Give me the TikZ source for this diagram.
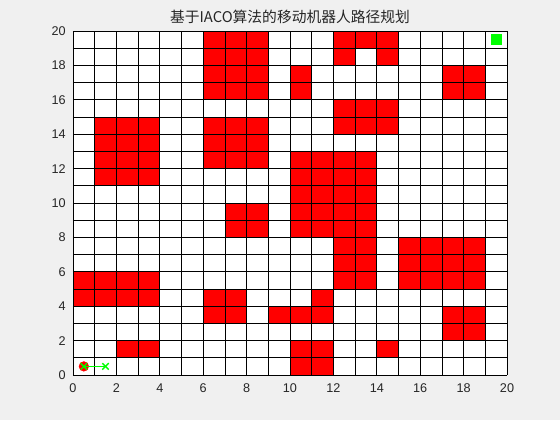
\documentclass[tikz,border=0pt]{standalone}
\usepackage{fontspec}
\setmainfont{Liberation Sans}
\newfontfamily\cjkfont{Noto Sans CJK SC}
\usetikzlibrary{positioning}
\definecolor{figGray}{RGB}{240,240,240}
\definecolor{obsRed}{RGB}{255,0,0}
\definecolor{pathGreen}{RGB}{0,255,0}

\begin{document}
\begin{tikzpicture}[
  x=0.5425cm, y=0.43cm,
  cell/.style={fill=obsRed},
  gridline/.style={line width=0.5pt, black},
  ticklab/.style={font=\fontsize{9}{10}\selectfont, inner sep=1pt,
                  text=black!85},
  title/.style={font=\cjkfont\fontsize{10.5}{12}\selectfont, text=black!85},
  startdot/.style={circle, fill=obsRed, draw=obsRed, inner sep=0pt,
                   minimum size=0.24cm},
  goal/.style={rectangle, fill=pathGreen, inner sep=0pt,
               minimum size=0.27cm},
  pathline/.style={pathGreen, line width=1pt},
  xmark/.style={pathGreen, line width=1pt}
]
  \useasboundingbox[fill=figGray] (-1.825cm,-1.125cm) rectangle (12.175cm,9.375cm);
  \fill[white] (0,0) rectangle (20,20);

  % obstacles, row by row
  \foreach \yy/\xs in {19/{6,7,8,12,13,14}, 18/{6,7,8,12,14},
      17/{6,7,8,10,17,18}, 16/{6,7,8,10,17,18}, 15/{12,13,14},
      14/{1,2,3,6,7,8,12,13,14}, 13/{1,2,3,6,7,8},
      12/{1,2,3,6,7,8,10,11,12,13}, 11/{1,2,3,10,11,12,13},
      10/{10,11,12,13}, 9/{7,8,10,11,12,13}, 8/{7,8,10,11,12,13},
      7/{12,13,15,16,17,18}, 6/{12,13,15,16,17,18},
      5/{0,1,2,3,12,13,15,16,17,18}, 4/{0,1,2,3,6,7,11},
      3/{6,7,9,10,11,17,18}, 2/{17,18}, 1/{2,3,10,11,14}, 0/{10,11}} {
    \foreach \xx in \xs
      \fill[cell] (\xx,\yy) rectangle ++(1,1);
  }

  % cell borders
  \foreach \i in {0,...,20} {
    \draw[gridline] (\i,0) -- (\i,20);
    \draw[gridline] (0,\i) -- (20,\i);
  }

  % tick labels
  \foreach \t in {0,2,...,20} {
    \node[ticklab, below=5pt] (xt\t) at (\t,0) {\t};
    \node[ticklab, left=4pt] (yt\t) at (0,\t) {\t};
  }

  \node[title, yshift=0.35cm] (title) at (10,20)
    {基于IACO算法的移动机器人路径规划};

  % start, first step and goal
  \node[goal] (goal) at (19.5,19.5) {};
  \node[startdot] (startdot) at (0.5,0.5) {};
  \coordinate (p0) at (0.5,0.5);
  \coordinate (p1) at (1.5,0.5);
  \draw[pathline] (p0) -- (p1);
  \foreach \p in {p0,p1} {
    \draw[xmark] ([shift={(-0.08cm,-0.08cm)}]\p) -- ([shift={(0.08cm,0.08cm)}]\p);
    \draw[xmark] ([shift={(-0.08cm,0.08cm)}]\p) -- ([shift={(0.08cm,-0.08cm)}]\p);
  }
\end{tikzpicture}
\end{document}
